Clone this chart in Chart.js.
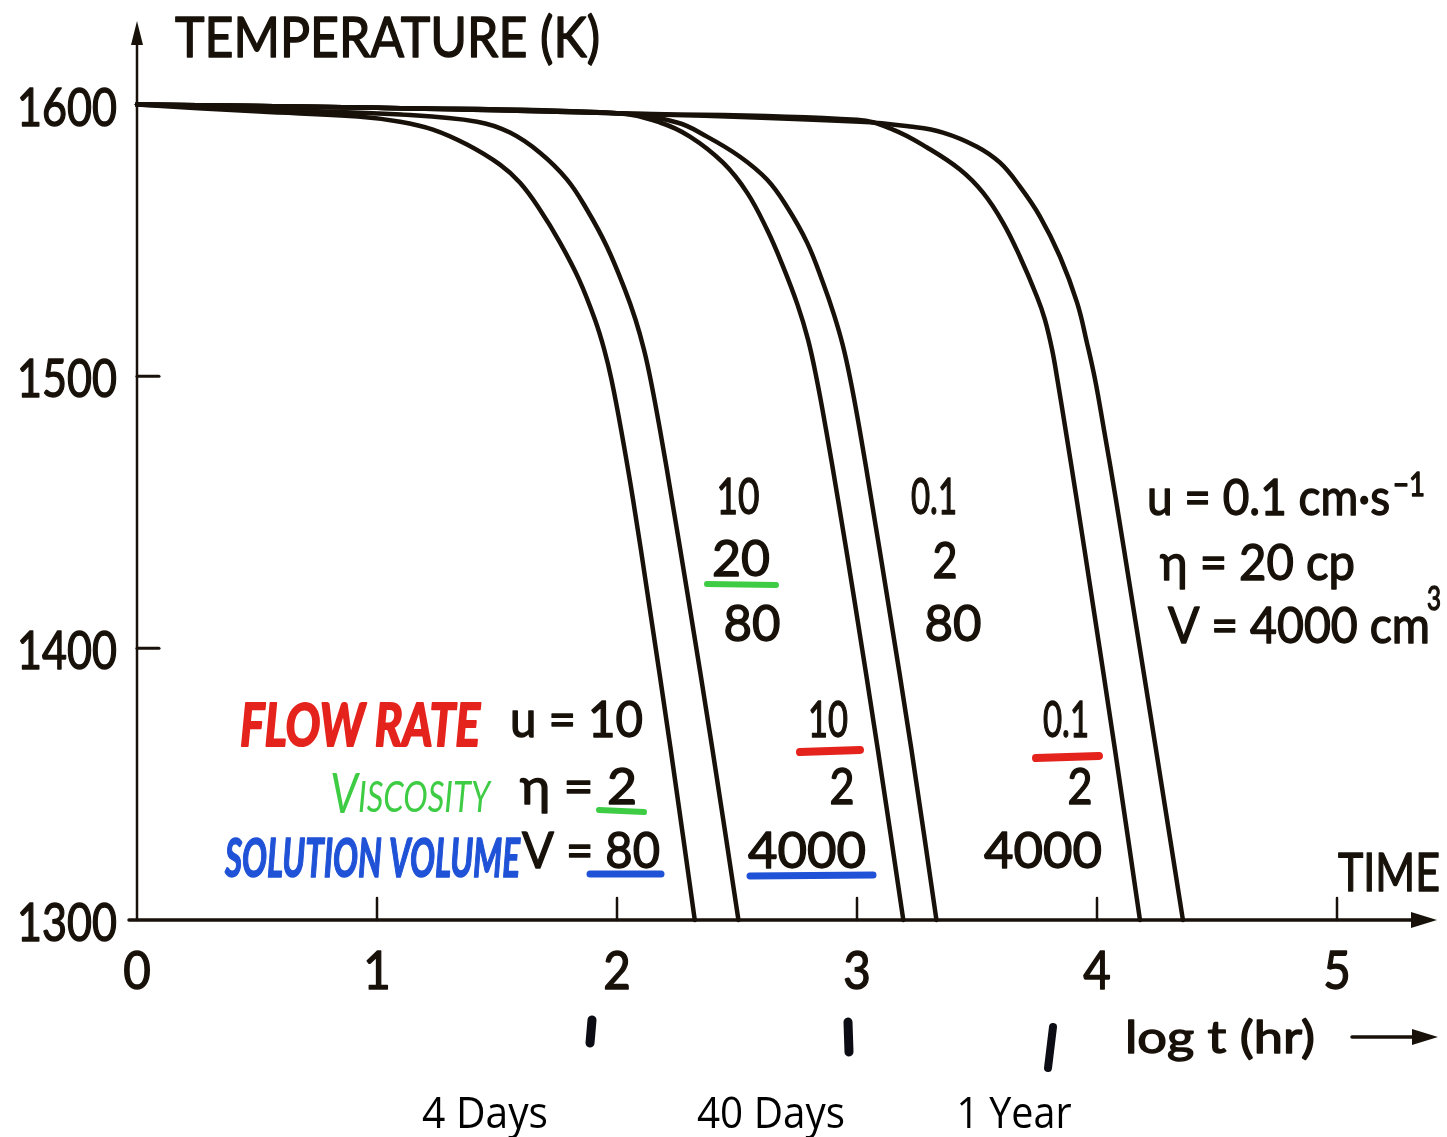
<!DOCTYPE html>
<html>
<head>
<meta charset="utf-8">
<title>Temperature vs log t</title>
<script src="https://cdn.jsdelivr.net/npm/chart.js@4.4.1/dist/chart.umd.min.js"></script>
<style>
  html, body { margin: 0; padding: 0; background: #fff; }
  #chart { display: block; }
</style>
</head>
<body>
<canvas id="chart" width="1447" height="1137"></canvas>
<script>
// axis ticks: log t (hr) and temperature (K)
const xTicks = [0, 1, 2, 3, 4, 5];
const yTicks = [1300, 1400, 1500, 1600];

// u = 10, eta = 2, V = 80
const c1x = [0, 0.51, 0.92, 1.096, 1.233, 1.375, 1.5125, 1.596, 1.679, 1.7625, 1.842, 1.908, 1.947, 1.977, 2.017, 2.067, 2.131, 2.224, 2.324];
const c1y = [1600, 1597.4, 1595.6, 1593.7, 1590.8, 1585.3, 1577.9, 1571.2, 1561.3, 1549.2, 1535.6, 1520.9, 1509.8, 1498.8, 1480.4, 1454.6, 1417.8, 1362.6, 1300];
// u = 10, eta = 20, V = 80
const c2x = [0, 0.6, 1.1, 1.417, 1.554, 1.679, 1.792, 1.875, 1.958, 2.033, 2.077, 2.1125, 2.14, 2.179, 2.229, 2.298, 2.398, 2.506];
const c2y = [1600, 1598, 1596.3, 1593.7, 1589.7, 1582.3, 1572.4, 1561.3, 1547.7, 1531.9, 1520.9, 1509.8, 1498.8, 1480.4, 1454.6, 1417.8, 1362.6, 1300];
// u = 10, eta = 2, V = 4000
const c3x = [0, 1.0, 2.0, 2.179, 2.304, 2.442, 2.542, 2.625, 2.692, 2.752, 2.796, 2.8325, 2.871, 2.921, 2.989, 3.087, 3.193];
const c3y = [1600, 1598.8, 1596.8, 1593.4, 1588.2, 1578.6, 1567.6, 1554, 1540.4, 1526.4, 1513.5, 1498.8, 1480.4, 1454.6, 1417.8, 1362.6, 1300];
// u = 0.1, eta = 2, V = 80
const c4x = [0, 1.0, 2.0, 2.25, 2.375, 2.5125, 2.625, 2.708, 2.792, 2.858, 2.904, 2.94, 2.9725, 3.011, 3.06, 3.128, 3.227, 3.331];
const c4y = [1600, 1598.8, 1596.8, 1593.4, 1588.2, 1580.8, 1572.4, 1562.4, 1549.2, 1534.5, 1522.7, 1511.7, 1498.8, 1480.4, 1454.6, 1417.8, 1362.6, 1300];
// u = 0.1, eta = 2, V = 4000
const c5x = [0, 1.0, 2.0, 3.0, 3.15, 3.292, 3.429, 3.525, 3.608, 3.679, 3.75, 3.783, 3.813, 3.835, 3.869, 3.9155, 3.98, 4.075, 4.179];
const c5y = [1600, 1598.8, 1596.8, 1594.4, 1590.8, 1584.2, 1576.1, 1567.6, 1556.6, 1544, 1529.3, 1520.9, 1509.8, 1498.8, 1480.4, 1454.6, 1417.8, 1362.6, 1300];
// u = 0.1, eta = 20, V = 4000
const c6x = [0, 1.0, 2.0, 3.0125, 3.221, 3.358, 3.5, 3.596, 3.679, 3.7625, 3.846, 3.917, 3.958, 3.992, 4.029, 4.079, 4.146, 4.246, 4.358];
const c6y = [1600, 1598.8, 1596.8, 1593.7, 1591.9, 1589.7, 1584.5, 1578.6, 1569.8, 1558.8, 1544, 1527.1, 1512.4, 1498.8, 1480.4, 1454.6, 1417.8, 1362.6, 1300];

const curves = [
  ["u=10 η=2 V=80", c1x, c1y],
  ["u=10 η=20 V=80", c2x, c2y],
  ["u=10 η=2 V=4000", c3x, c3y],
  ["u=0.1 η=2 V=80", c4x, c4y],
  ["u=0.1 η=2 V=4000", c5x, c5y],
  ["u=0.1 η=20 V=4000", c6x, c6y]
];

const INK = "#17110a";
const RED = "#e5231d";
const GREEN = "#3fcc45";
const BLUE = "#1f52d6";
const FONT = "Lato, 'DejaVu Sans', sans-serif";

// text helper: h = cap height, w = stretched width, anchored by align
function put(ctx, s, x, cy, o) {
  const size = o.h / 0.72;
  ctx.save();
  ctx.font = `${o.style || "normal"} ${o.weight || 400} ${size}px ${o.family || FONT}`;
  ctx.fillStyle = o.color || INK;
  ctx.strokeStyle = o.color || INK;
  ctx.textBaseline = "alphabetic";
  const natural = ctx.measureText(s).width;
  const sx = o.w ? o.w / natural : (o.sx || 1);
  const drawn = natural * sx;
  let left = x;
  if (o.align === "center") left = x - drawn / 2;
  else if (o.align === "right") left = x - drawn;
  ctx.translate(left, cy + o.h / 2);
  ctx.scale(sx, 1);
  ctx.fillText(s, 0, 0);
  if (o.bold !== 0) {
    ctx.lineWidth = o.bold || 1.4;
    ctx.lineJoin = "round";
    ctx.strokeText(s, 0, 0);
  }
  ctx.restore();
}

function stroke(ctx, pts, width, color) {
  ctx.save();
  ctx.strokeStyle = color;
  ctx.lineWidth = width;
  ctx.lineCap = "round";
  ctx.lineJoin = "round";
  ctx.beginPath();
  pts.forEach((p, i) => i ? ctx.lineTo(p[0], p[1]) : ctx.moveTo(p[0], p[1]));
  ctx.stroke();
  ctx.restore();
}

function arrowHead(ctx, x, y, dir) {
  ctx.save();
  ctx.fillStyle = INK;
  ctx.beginPath();
  if (dir === "up") {
    ctx.moveTo(x, y); ctx.lineTo(x - 6, y + 24); ctx.lineTo(x + 6, y + 24);
  } else {
    ctx.moveTo(x, y); ctx.lineTo(x - 26, y - 8); ctx.lineTo(x - 26, y + 8);
  }
  ctx.closePath();
  ctx.fill();
  ctx.restore();
}

// ===== AXES AND LETTERING =====
const axesPlugin = {
  id: "axes",
  beforeDraw(chart) {
    const ctx = chart.ctx;
    ctx.save();
    ctx.fillStyle = "#fff";
    ctx.fillRect(0, 0, chart.width, chart.height);
    ctx.restore();
  },
  beforeDatasetsDraw(chart) {
    const { ctx, chartArea: a, scales: { x, y } } = chart;
    stroke(ctx, [[a.left, a.bottom], [a.left, a.top + 8]], 2.5, INK);
    arrowHead(ctx, a.left, a.top - 2, "up");
    stroke(ctx, [[a.left - 8, a.bottom], [a.right - 10, a.bottom]], 3.5, INK);
    arrowHead(ctx, a.right + 4, a.bottom, "right");

    xTicks.filter(v => v > 0).forEach(v => {
      const px = x.getPixelForValue(v);
      stroke(ctx, [[px, a.bottom], [px, a.bottom - 22]], 2.5, INK);
    });
    yTicks.filter(v => v > 1300 && v < 1600).forEach(v => {
      const py = y.getPixelForValue(v);
      stroke(ctx, [[a.left, py], [a.left + 22, py]], 3, INK);
    });
  },
  afterDraw(chart) {
    const { ctx, chartArea: a, scales: { x, y } } = chart;

    yTicks.forEach(v => {
      put(ctx, String(v), a.left - 20, y.getPixelForValue(v) + 2, { h: 38, w: 100, align: "right" });
    });
    xTicks.forEach(v => {
      put(ctx, String(v), x.getPixelForValue(v), a.bottom + 50, { h: 38, sx: 0.9, align: "center" });
    });

    put(ctx, "TEMPERATURE (K)", 175, 37, { h: 40, w: 425 });

    // labels between the curves
    put(ctx, "10", 738, 496, { h: 36, w: 43, align: "center" });
    put(ctx, "20", 741, 558, { h: 36, w: 58, align: "center" });
    put(ctx, "80", 752, 623, { h: 36, w: 57, align: "center" });
    put(ctx, "0.1", 934, 496, { h: 36, w: 46, align: "center" });
    put(ctx, "2", 945, 560, { h: 36, w: 25, align: "center" });
    put(ctx, "80", 953, 623, { h: 36, w: 57, align: "center" });

    put(ctx, "u = 0.1 cm·s", 1147, 497, { h: 36, w: 243 });
    put(ctx, "−1", 1393, 484, { h: 24, w: 32 });
    put(ctx, "η = 20 cp", 1160, 562, { h: 36, w: 195 });
    put(ctx, "V = 4000 cm", 1168, 625, { h: 36, w: 262 });
    put(ctx, "3", 1427, 598, { h: 24, w: 14 });

    // parameter key
    put(ctx, "FLOW RATE", 240, 725, { h: 42, w: 240, color: RED, weight: 700, style: "italic", bold: 2 });
    put(ctx, "u = 10", 510, 719, { h: 36, w: 133 });
    put(ctx, "V", 330, 793, { h: 40, w: 28, color: GREEN, style: "italic", bold: 0 });
    put(ctx, "ISCOSITY", 358, 797, { h: 30, w: 132, color: GREEN, style: "italic", bold: 0 });
    put(ctx, "η = 2", 520, 786, { h: 36, w: 117 });
    put(ctx, "SOLUTION VOLUME", 225, 858, { h: 38, w: 295, color: BLUE, weight: 700, style: "italic", bold: 1.5 });
    put(ctx, "V = 80", 522, 850, { h: 36, w: 138 });

    put(ctx, "10", 828, 719, { h: 36, w: 40, align: "center" });
    put(ctx, "2", 842, 786, { h: 36, w: 25, align: "center" });
    put(ctx, "4000", 807, 850, { h: 36, w: 118, align: "center" });
    put(ctx, "0.1", 1066, 719, { h: 36, w: 46, align: "center" });
    put(ctx, "2", 1080, 786, { h: 36, w: 25, align: "center" });
    put(ctx, "4000", 1043, 850, { h: 36, w: 118, align: "center" });

    // marker underlines
    stroke(ctx, [[707, 584], [776, 585]], 6, GREEN);
    stroke(ctx, [[599, 810], [644, 812]], 6, GREEN);
    stroke(ctx, [[590, 874], [661, 874]], 7, BLUE);
    stroke(ctx, [[800, 752], [860, 750]], 8, RED);
    stroke(ctx, [[750, 876], [873, 875]], 7, BLUE);
    stroke(ctx, [[1036, 758], [1099, 756]], 8, RED);

    put(ctx, "TIME", 1338, 872, { h: 38, w: 102 });

    // hand marks under the axis
    stroke(ctx, [[592, 1020], [590, 1043]], 9, "#0c0c14");
    stroke(ctx, [[848, 1022], [849, 1052]], 9, "#0c0c14");
    stroke(ctx, [[1053, 1027], [1048, 1068]], 8, "#0c0c14");

    put(ctx, "log t (hr)", 1125, 1037, { h: 32, w: 190 });
    stroke(ctx, [[1352, 1037], [1420, 1037]], 3.5, INK);
    arrowHead(ctx, 1438, 1037, "right");

    const cal = "'Open Sans', 'Noto Sans', sans-serif";
    put(ctx, "4 Days", 485, 1112, { h: 31, w: 126, align: "center", family: cal, color: "#000", bold: 0 });
    put(ctx, "40 Days", 771, 1112, { h: 31, w: 148, align: "center", family: cal, color: "#000", bold: 0 });
    put(ctx, "1 Year", 1014, 1112, { h: 31, w: 115, align: "center", family: cal, color: "#000", bold: 0 });
  }
};

new Chart(document.getElementById("chart"), {
  type: "scatter",
  data: {
    datasets: curves.map(([label, xs, ys]) => ({
      label,
      data: xs.map((v, i) => ({ x: v, y: ys[i] })),
      showLine: true,
      borderColor: INK,
      borderWidth: 4.5,
      pointRadius: 0,
      tension: 0.4,
      borderCapStyle: "round",
      borderJoinStyle: "round",
      fill: false,
      clip: 4
    }))
  },
  options: {
    responsive: false,
    animation: false,
    devicePixelRatio: 1,
    layout: { padding: { left: 137, right: 14, top: 23, bottom: 217 } },
    plugins: { legend: { display: false }, tooltip: { enabled: false } },
    scales: {
      x: { type: "linear", min: 0, max: 5.4, display: false },
      y: { type: "linear", min: 1300, max: 1630, display: false }
    }
  },
  plugins: [axesPlugin]
});
</script>
</body>
</html>
